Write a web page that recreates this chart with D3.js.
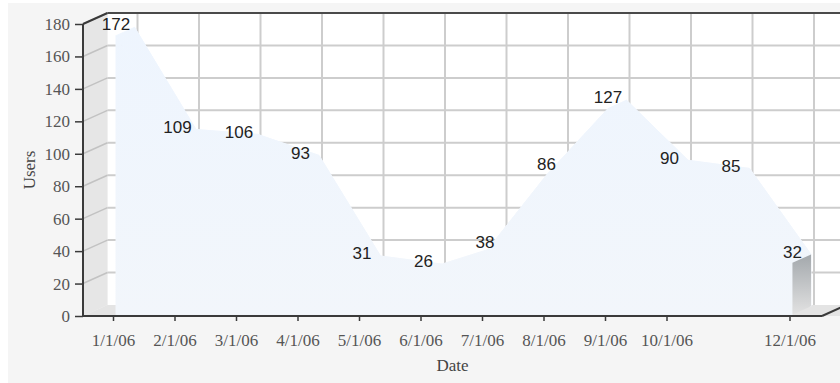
<!DOCTYPE html>
<html>
<head>
<meta charset="utf-8">
<script src="https://cdn.jsdelivr.net/npm/d3@7"></script>
<style>
  html, body { margin: 0; padding: 0; background: #ffffff; }
  svg { display: block; }
</style>
</head>
<body>
<div id="chart"></div>
<script>
// Monthly users, 2006
const categories = ["1/1/06", "2/1/06", "3/1/06", "4/1/06", "5/1/06", "6/1/06",
                    "7/1/06", "8/1/06", "9/1/06", "10/1/06", "11/1/06", "12/1/06"];
const users = [172, 109, 106, 93, 31, 26, 38, 86, 127, 90, 85, 32];
const yTicks = [0, 20, 40, 60, 80, 100, 120, 140, 160, 180];
const xTickLabels = ["1/1/06", "2/1/06", "3/1/06", "4/1/06", "5/1/06", "6/1/06",
                     "7/1/06", "8/1/06", "9/1/06", "10/1/06", "12/1/06"];

const W = 840, H = 383;
const axisLeftX = 83, axisRightX = 822;
const DX = 24.5, DY = -11;          // depth offset of the back wall
const F1 = 0.12, F2 = 0.88;         // front / back depth of the area ribbon

const svg = d3.select("#chart").append("svg")
  .attr("width", W).attr("height", H);

const defs = svg.append("defs");
const areaGrad = defs.append("linearGradient")
  .attr("id", "areaGrad").attr("gradientUnits", "userSpaceOnUse")
  .attr("x1", 0).attr("y1", 24).attr("x2", 0).attr("y2", 316);
areaGrad.append("stop").attr("offset", "0%").attr("stop-color", "#eef5fe");
areaGrad.append("stop").attr("offset", "100%").attr("stop-color", "#f2f6fb");
const sideGrad = defs.append("linearGradient")
  .attr("id", "sideGrad").attr("x1", 0).attr("y1", 0).attr("x2", 0).attr("y2", 1);
sideGrad.append("stop").attr("offset", "0%").attr("stop-color", "#a3a8ac");
sideGrad.append("stop").attr("offset", "100%").attr("stop-color", "#e2e2e2");

// panel
svg.append("rect").attr("x", 8).attr("y", 3).attr("width", W - 8).attr("height", H - 3)
  .attr("fill", "#f5f5f5");

const y = d3.scaleLinear().domain([0, 180]).range([316, 24]);
const x = d3.scalePoint().domain(categories).range([113, 789.5]);

const yTop = y(180), yBot = y(0);
const backRight = axisRightX + DX;

// back wall
svg.append("rect")
  .attr("x", axisLeftX + DX).attr("y", yTop + DY)
  .attr("width", backRight - axisLeftX - DX + 40).attr("height", yBot - yTop)
  .attr("fill", "#ffffff");

// left side wall
svg.append("polygon")
  .attr("points", [[axisLeftX, yTop], [axisLeftX + DX, yTop + DY], [axisLeftX + DX, yBot + DY], [axisLeftX, yBot]].join(" "))
  .attr("fill", "#e6e6e6");

// floor
svg.append("polygon")
  .attr("points", [[axisLeftX, yBot], [axisLeftX + DX, yBot + DY], [backRight + 40, yBot + DY], [axisRightX + 40, yBot]].join(" "))
  .attr("fill", "#e4e4e4");

// grid lines
const grid = svg.append("g").attr("stroke", "#cdcdcd").attr("stroke-width", 2).attr("fill", "none");
yTicks.filter(v => v > 0).forEach(v => {
  grid.append("line")
    .attr("x1", axisLeftX + DX).attr("x2", W + 10)
    .attr("y1", y(v) + DY).attr("y2", y(v) + DY);
  grid.append("line")
    .attr("x1", axisLeftX).attr("x2", axisLeftX + DX)
    .attr("y1", y(v)).attr("y2", y(v) + DY)
    .attr("stroke", "#c2c2c2").attr("stroke-width", 1.5);
});
categories.forEach(c => {
  grid.append("line")
    .attr("x1", x(c) + DX).attr("x2", x(c) + DX)
    .attr("y1", yTop + DY).attr("y2", yBot + DY);
});

// 3D area ribbon
const pts = categories.map((c, i) => ({ c, v: users[i] }));
const at = (d, f) => [x(d.c) + f * DX, y(d.v) + f * DY];
const base = (d, f) => [x(d.c) + f * DX, y(0) + f * DY];
const faceLine = d3.line();
const area = svg.append("g")
  .attr("fill", "url(#areaGrad)").attr("stroke", "url(#areaGrad)").attr("stroke-width", 0.8);

function face(f) {
  const top = pts.map(d => at(d, f));
  const bottom = pts.slice().reverse().map(d => base(d, f));
  return faceLine(top.concat(bottom)) + "Z";
}
area.append("path").attr("d", face(F2));
for (let i = 0; i < pts.length - 1; i++) {
  const a = pts[i], b = pts[i + 1];
  area.append("path")
    .attr("d", faceLine([at(a, F1), at(b, F1), at(b, F2), at(a, F2)]) + "Z");
}
area.append("path").attr("d", face(F1));

// right end cap of the ribbon
const last = pts[pts.length - 1];
svg.append("path")
  .attr("d", faceLine([at(last, F1), at(last, F2), base(last, F2), base(last, F1)]) + "Z")
  .attr("fill", "url(#sideGrad)");

// axes
const frame = svg.append("g").attr("stroke", "#3a3a3a").attr("stroke-width", 2).attr("fill", "none");
frame.append("line").attr("x1", axisLeftX + DX).attr("x2", W + 10).attr("y1", yTop + DY).attr("y2", yTop + DY)
  .attr("stroke", "#4a4a4a");
frame.append("line").attr("x1", axisLeftX).attr("x2", axisLeftX + DX).attr("y1", yTop).attr("y2", yTop + DY);
frame.append("line").attr("x1", axisLeftX).attr("x2", axisLeftX).attr("y1", yTop).attr("y2", yBot + 1);
frame.append("line").attr("x1", axisLeftX).attr("x2", axisRightX).attr("y1", yBot).attr("y2", yBot);
frame.append("line").attr("x1", axisRightX).attr("x2", backRight).attr("y1", yBot).attr("y2", yBot + DY);

const yAxis = svg.append("g")
  .attr("transform", `translate(${axisLeftX},0)`)
  .call(d3.axisLeft(y).tickValues(yTicks).tickSize(8).tickPadding(5).tickSizeOuter(0));
const xAxis = svg.append("g")
  .attr("transform", `translate(0,${yBot})`)
  .call(d3.axisBottom(x).tickValues(xTickLabels).tickSize(5).tickPadding(13).tickSizeOuter(0));
[yAxis, xAxis].forEach(g => {
  g.select(".domain").remove();
  g.selectAll(".tick line").attr("stroke", "#3a3a3a").attr("stroke-width", 1.5);
  g.selectAll(".tick text")
    .attr("fill", "#555555")
    .style("font-family", "'Liberation Serif', 'Times New Roman', serif")
    .style("font-size", "17px");
});

// axis titles
svg.append("text")
  .attr("x", (axisLeftX + axisRightX) / 2).attr("y", 371)
  .attr("text-anchor", "middle")
  .style("font-family", "'Liberation Serif', 'Times New Roman', serif")
  .style("font-size", "17px").attr("fill", "#444")
  .text("Date");
svg.append("text")
  .attr("transform", `translate(35,${(yTop + yBot) / 2}) rotate(-90)`)
  .attr("text-anchor", "middle")
  .style("font-family", "'Liberation Serif', 'Times New Roman', serif")
  .style("font-size", "17px").attr("fill", "#444")
  .text("Users");

// value labels
svg.append("g").selectAll("text").data(pts).join("text")
  .attr("x", d => x(d.c) + 3)
  .attr("y", d => y(d.v) - 6.5)
  .attr("text-anchor", "middle")
  .style("font-family", "'Liberation Sans', Arial, sans-serif")
  .style("font-size", "17px")
  .attr("fill", "#222")
  .text(d => d.v);
</script>
</body>
</html>
